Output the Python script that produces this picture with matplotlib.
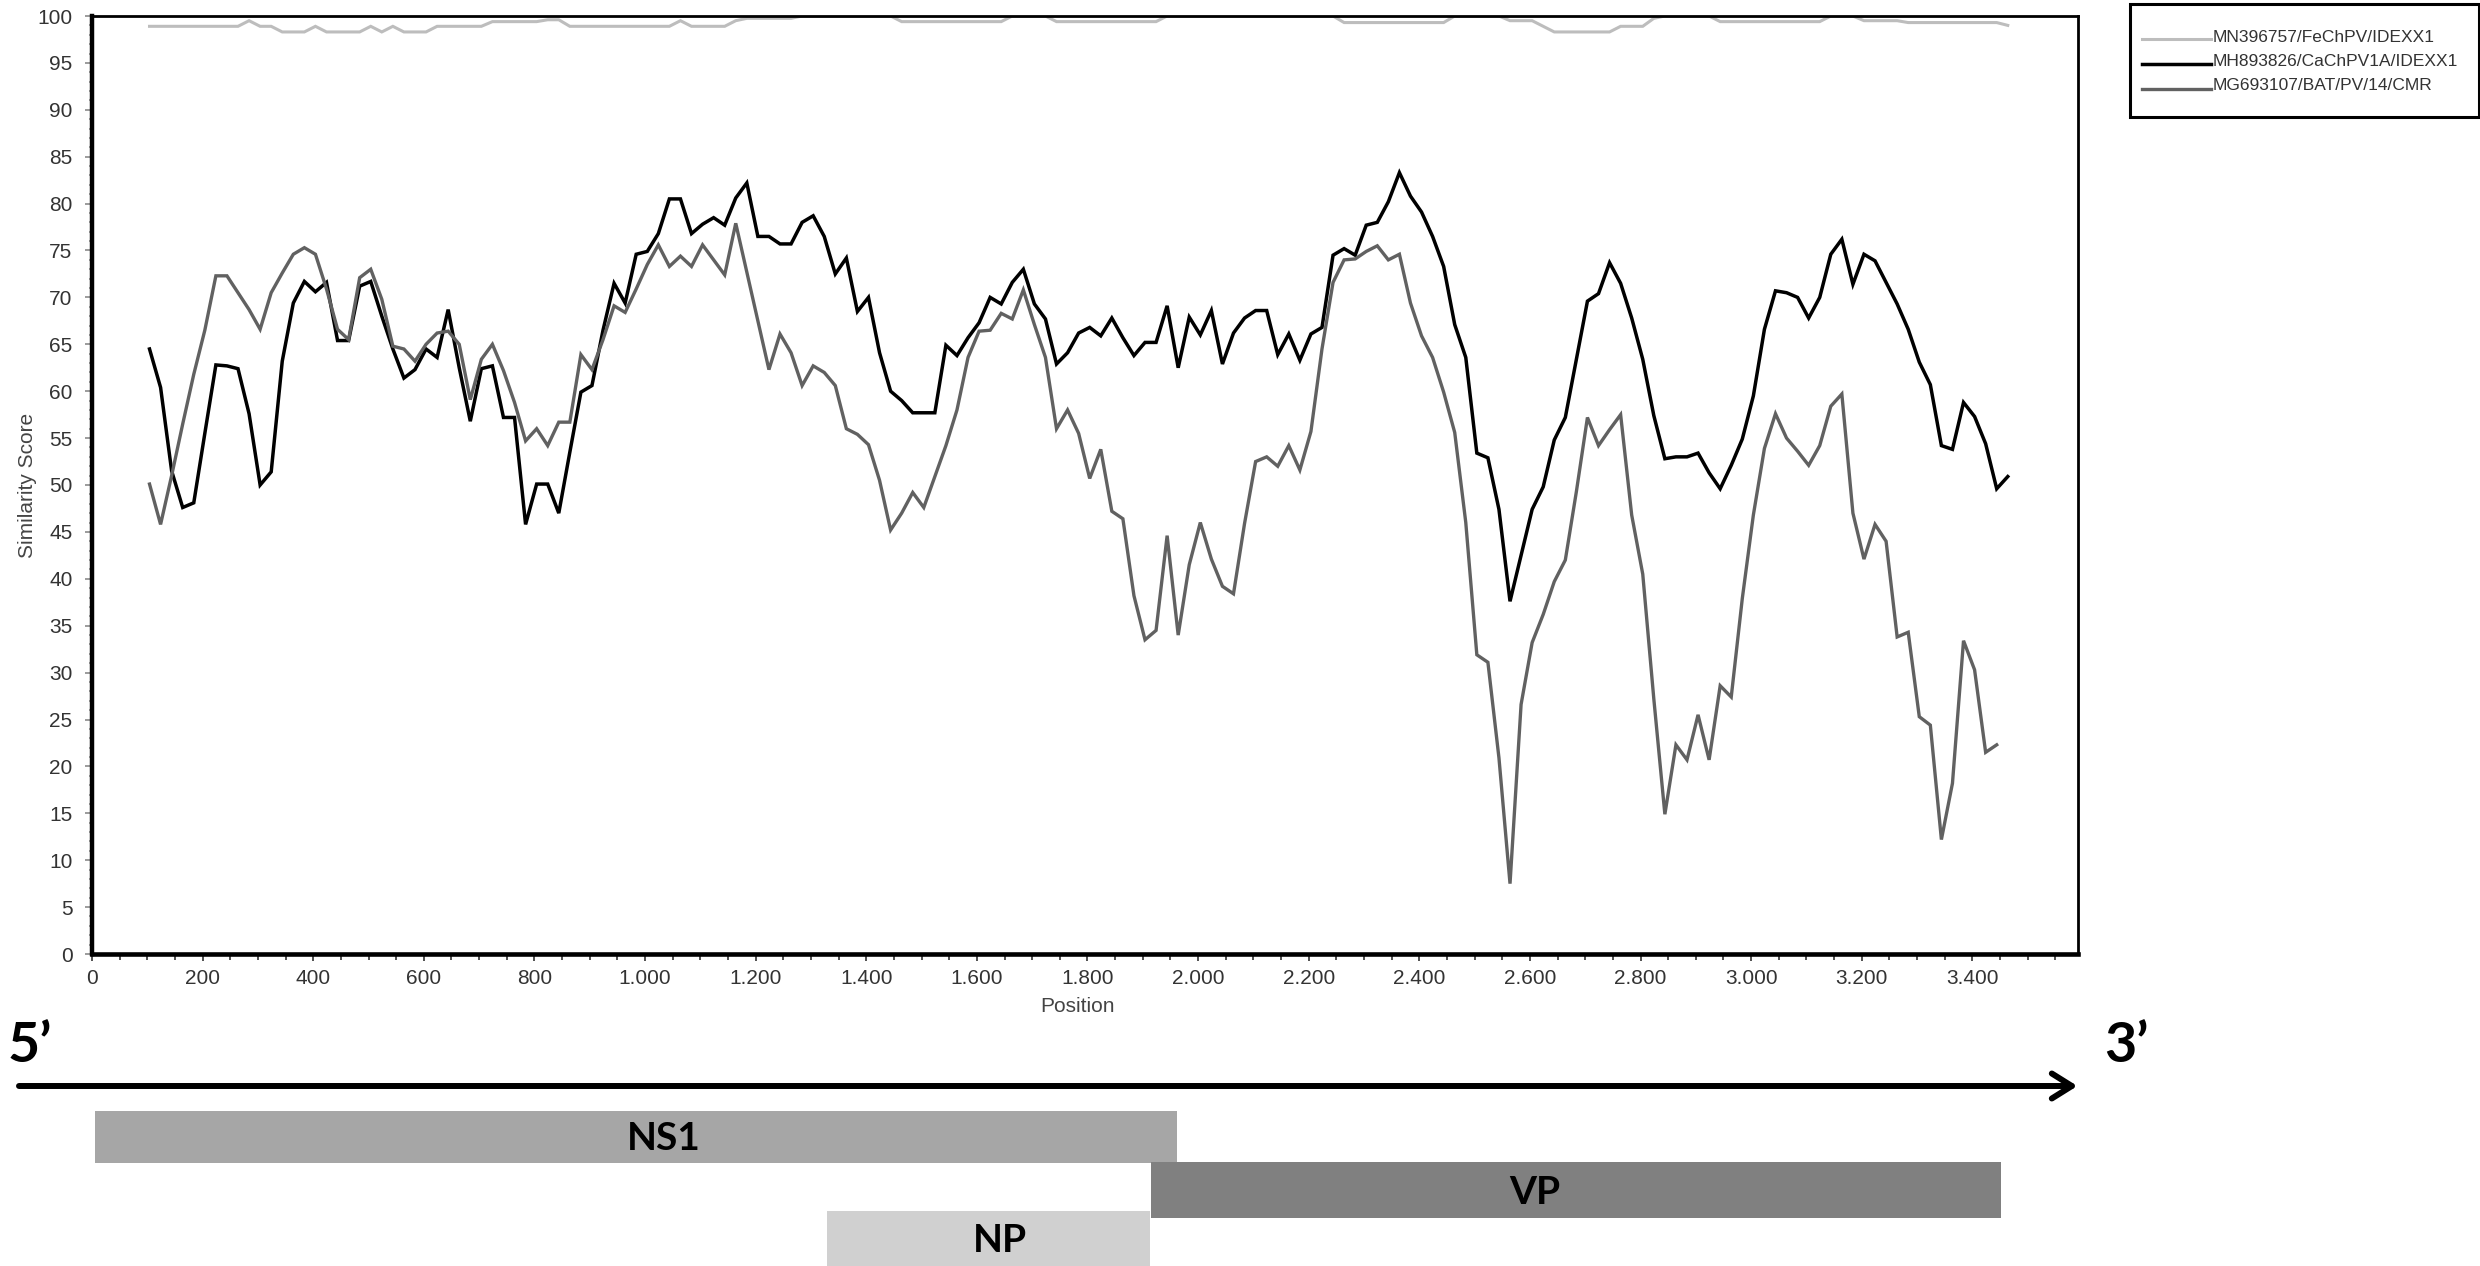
import numpy as np
import matplotlib
matplotlib.use('Agg')
from matplotlib import pyplot as plt
from matplotlib.ticker import MultipleLocator, FuncFormatter
from matplotlib.patches import Rectangle
from matplotlib.lines import Line2D

plt.rcParams['font.family'] = ['Liberation Sans', 'DejaVu Sans']

'''data (read off the picture), window centres every 20 nt'''
position = np.arange(104, 3465, 20)

series_names = ['MN396757/FeChPV/IDEXX1', 'MH893826/CaChPV1A/IDEXX1', 'MG693107/BAT/PV/14/CMR']
series_colors = ['#bdbdbd', '#000000', '#616161']
series_widths = [2.2, 2.5, 2.4]

fechpv = [98.9, 98.9, 98.9, 98.9, 98.9, 98.9, 98.9, 98.9, 98.9, 99.5,
          98.9, 98.9, 98.3, 98.3, 98.3, 98.9, 98.3, 98.3, 98.3, 98.3,
          98.9, 98.3, 98.9, 98.3, 98.3, 98.3, 98.9, 98.9, 98.9, 98.9,
          98.9, 99.4, 99.4, 99.4, 99.4, 99.4, 99.6, 99.6, 98.9, 98.9,
          98.9, 98.9, 98.9, 98.9, 98.9, 98.9, 98.9, 98.9, 99.5, 98.9,
          98.9, 98.9, 98.9, 99.5, 99.75, 99.75, 99.75, 99.75, 99.75, 100,
          100, 100, 100, 100, 100, 100, 100, 100, 99.4, 99.4,
          99.4, 99.4, 99.4, 99.4, 99.4, 99.4, 99.4, 99.4, 100, 100,
          100, 100, 99.4, 99.4, 99.4, 99.4, 99.4, 99.4, 99.4, 99.4,
          99.4, 99.4, 100, 100, 100, 100, 100, 100, 100, 100,
          100, 100, 100, 100, 100, 100, 100, 100, 99.3, 99.3,
          99.3, 99.3, 99.3, 99.3, 99.3, 99.3, 99.3, 99.3, 100, 100,
          100, 100, 100, 99.5, 99.5, 99.5, 98.9, 98.3, 98.3, 98.3,
          98.3, 98.3, 98.3, 98.9, 98.9, 98.9, 99.75, 100, 100, 100,
          100, 100, 99.4, 99.4, 99.4, 99.4, 99.4, 99.4, 99.4, 99.4,
          99.4, 99.4, 100, 100, 100, 99.5, 99.5, 99.5, 99.5, 99.3,
          99.3, 99.3, 99.3, 99.3, 99.3, 99.3, 99.3, 99.3, 99.0]

cachpv = [64.5, 60.4, 51.5, 47.6, 48.1, 55.5, 62.8, 62.7, 62.4, 57.6,
          50.0, 51.4, 63.2, 69.4, 71.7, 70.6, 71.6, 65.4, 65.4, 71.2,
          71.7, 68.0, 64.5, 61.4, 62.3, 64.5, 63.6, 68.7, 62.5, 56.8,
          62.4, 62.7, 57.2, 57.2, 45.8, 50.1, 50.1, 47.0, 53.5, 59.9,
          60.6, 66.5, 71.5, 69.4, 74.6, 74.9, 76.8, 80.5, 80.5, 76.8,
          77.8, 78.5, 77.7, 80.6, 82.2, 76.5, 76.5, 75.7, 75.7, 78.0,
          78.7, 76.5, 72.5, 74.2, 68.5, 70.0, 64.1, 60.0, 59.0, 57.7,
          57.7, 57.7, 64.9, 63.8, 65.7, 67.3, 70.0, 69.3, 71.6, 73.0,
          69.3, 67.7, 62.9, 64.1, 66.2, 66.8, 65.9, 67.8, 65.7, 63.8,
          65.2, 65.2, 69.1, 62.5, 67.9, 66.0, 68.6, 62.9, 66.2, 67.8,
          68.6, 68.6, 63.9, 66.1, 63.3, 66.1, 66.8, 74.5, 75.2, 74.5,
          77.7, 78.0, 80.2, 83.3, 80.8, 79.1, 76.5, 73.3, 67.1, 63.6,
          53.4, 52.9, 47.4, 37.6, 42.5, 47.4, 49.8, 54.8, 57.2, 63.4,
          69.6, 70.4, 73.7, 71.5, 67.8, 63.4, 57.4, 52.8, 53.0, 53.0,
          53.4, 51.3, 49.6, 52.1, 54.9, 59.5, 66.6, 70.7, 70.5, 70.0,
          67.8, 70.0, 74.6, 76.2, 71.4, 74.6, 73.9, 71.6, 69.3, 66.6,
          63.1, 60.7, 54.2, 53.8, 58.8, 57.3, 54.4, 49.6, 50.9]

bat_pv = [50.1, 45.8, 51.0, 56.5, 61.8, 66.5, 72.3, 72.3, 70.5, 68.7,
          66.6, 70.5, 72.6, 74.6, 75.3, 74.6, 70.9, 66.6, 65.5, 72.1,
          73.0, 69.8, 64.8, 64.5, 63.2, 65.0, 66.2, 66.4, 65.0, 59.1,
          63.4, 65.0, 62.2, 58.8, 54.7, 56.0, 54.2, 56.7, 56.7, 63.9,
          62.3, 65.5, 69.1, 68.4, 70.9, 73.5, 75.6, 73.3, 74.4, 73.3,
          75.6, 74.0, 72.4, 77.9, 72.7, 67.5, 62.3, 66.1, 64.1, 60.6,
          62.7, 62.0, 60.6, 56.0, 55.4, 54.3, 50.5, 45.2, 47.0, 49.2,
          47.6, 50.9, 54.2, 58.0, 63.6, 66.4, 66.5, 68.3, 67.7, 70.8,
          67.1, 63.6, 56.0, 58.0, 55.5, 50.7, 53.8, 47.2, 46.4, 38.2,
          33.5, 34.5, 44.6, 34.0, 41.5, 46.0, 42.1, 39.2, 38.4, 45.9,
          52.5, 53.0, 52.0, 54.2, 51.6, 55.7, 64.5, 71.6, 74.0, 74.1,
          74.9, 75.5, 74.0, 74.6, 69.4, 65.9, 63.6, 59.9, 55.6, 46.0,
          31.9, 31.1, 20.9, 7.5, 26.6, 33.2, 36.2, 39.7, 42.0, 49.3,
          57.2, 54.2, 55.9, 57.5, 46.8, 40.5, 27.2, 14.9, 22.3, 20.7,
          25.5, 20.7, 28.6, 27.4, 37.9, 46.8, 53.9, 57.6, 55.0, 53.6,
          52.1, 54.2, 58.4, 59.7, 47.0, 42.1, 45.8, 44.0, 33.8, 34.3,
          25.3, 24.4, 12.2, 18.2, 33.4, 30.3, 21.5, 22.3]

# genome map
genes = ['NS1', 'VP', 'NP']
gene_start = [5, 1915, 1329]
gene_end = [1962, 3452, 1913]
gene_colors = ['#a6a6a6', '#808080', '#d0d0d0']

'''figure'''
W, H = 2480, 1266
fig = plt.figure(figsize=(W / 100, H / 100), dpi=100)
L, R, T, B = 92, 2078, 16, 954
ax = fig.add_axes([L / W, 1 - B / H, (R - L) / W, (B - T) / H])

for vals, name, c, lw in zip([fechpv, cachpv, bat_pv], series_names, series_colors, series_widths):
    ax.plot(position[:len(vals)], vals, color=c, lw=lw, label=name, solid_joinstyle='miter')

ax.set_xlim(0, 3591)
ax.set_ylim(0, 100)
ax.yaxis.set_major_locator(MultipleLocator(5))
ax.yaxis.set_minor_locator(MultipleLocator(1))
ax.xaxis.set_major_locator(MultipleLocator(200))
ax.xaxis.set_minor_locator(MultipleLocator(50))
ax.xaxis.set_major_formatter(FuncFormatter(lambda v, p: f'{int(v):,}'.replace(',', '.')))

ax.tick_params(axis='y', which='major', direction='out', length=5, width=1.2, color='#8a8a8a',
               labelsize=15, labelcolor='#333333', pad=9)
ax.tick_params(axis='y', which='minor', direction='out', length=2.5, width=1.2, color='#9a9a9a')
ax.tick_params(axis='x', which='major', direction='out', length=5, width=1.2, color='#333333',
               labelsize=15, labelcolor='#333333', pad=6)
ax.tick_params(axis='x', which='minor', direction='out', length=4, width=1.2, color='#333333')

for side, w in zip(['left', 'bottom', 'top', 'right'], [3.2, 3.3, 2.0, 2.0]):
    ax.spines[side].set_linewidth(w)
    ax.spines[side].set_color('black')

ax.set_ylabel('Similarity Score', fontsize=15, color='#444444', va='center')
ax.yaxis.set_label_coords(-0.0327, 0.5)
ax.set_xlabel('Position', fontsize=15, color='#444444', va='center')
ax.xaxis.set_label_coords(0.496, -0.0565)

# legend box drawn by hand (fixed size box like the original)
fig.patches.append(Rectangle((2130 / W, 1 - 117 / H), 349 / W, 113 / H, transform=fig.transFigure,
                             fill=False, edgecolor='black', lw=2.2))
for i, (name, c, lw) in enumerate(zip(series_names, series_colors, series_widths)):
    yl = 1 - (39 + 25 * i) / H
    fig.lines.append(Line2D([2142 / W, 2211 / W], [yl, yl], transform=fig.transFigure, color=c, lw=lw))
    fig.text(2213 / W, 1 - (37 + 24 * i) / H, name, fontsize=12.5, color='#333333', va='center', ha='left')

'''genome map under the plot'''
gx = fig.add_axes([L / W, 0, (R - L) / W, 266 / H])
gx.set_xlim(0, 3591)
gx.set_ylim(1266, 1000)
gx.axis('off')

bar_y = [1137, 1190, 1238.5]
bar_h = [52, 56, 55]
label_x = [1034, 2609, 1642]
for g, s, e, c, y, h, lx in zip(genes, gene_start, gene_end, gene_colors, bar_y, bar_h, label_x):
    gx.barh(y, e - s, left=s, height=h, color=c, clip_on=False)
    gx.text(lx, y + 2, g, fontsize=28, fontweight='bold', family='Lato', ha='center', va='center')

gx.annotate('', xy=(3590, 1086), xytext=(-132, 1086), annotation_clip=False,
            arrowprops=dict(arrowstyle='->,head_length=0.72,head_width=0.45', lw=4.3,
                            color='black', mutation_scale=20, shrinkA=0, shrinkB=0))
fig.text(30 / W, 1 - 1046 / H, '5’', fontsize=40, fontweight='bold', family='Lato', ha='center', va='center')
fig.text(2126 / W, 1 - 1046 / H, '3’', fontsize=40, fontweight='bold', family='Lato', ha='center', va='center')

fig.savefig('out.png', dpi=100)
